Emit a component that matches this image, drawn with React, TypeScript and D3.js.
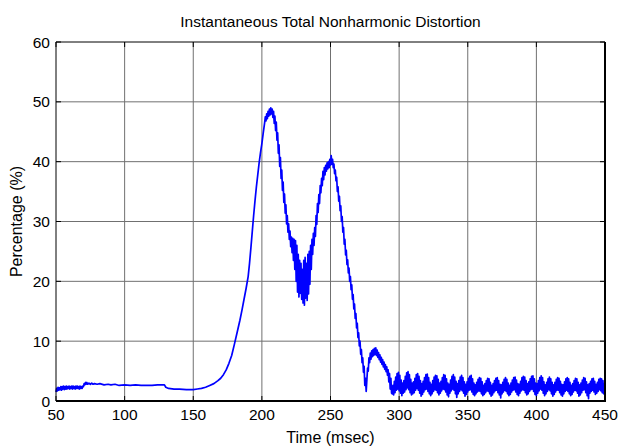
import * as React from 'react';
import * as d3 from 'd3';

const title = 'Instantaneous Total Nonharmonic Distortion';
const xLabel = 'Time (msec)';
const yLabel = 'Percentage (%)';
const xTicks = [50, 100, 150, 200, 250, 300, 350, 400, 450];
const yTicks = [0, 10, 20, 30, 40, 50, 60];

// [time (msec), percentage]
const startup = [
  [50, 1.5], [50.5, 2.1], [51, 1.7], [51.5, 2.3], [52, 1.8], [52.5, 2.2], [53, 1.9], [53.5, 2.4],
  [54, 1.8], [54.5, 2.4], [55, 2.0], [55.5, 2.5], [56, 1.9], [56.5, 2.4], [57, 2.0], [57.5, 2.5],
  [58, 2.0], [58.5, 2.4], [59, 2.1], [59.5, 2.5], [60, 2.0], [60.5, 2.4], [61, 2.1], [61.5, 2.5],
  [62, 2.0], [62.5, 2.5], [63, 2.1], [63.5, 2.4], [64, 2.0], [64.5, 2.5], [65, 2.1], [65.5, 2.5],
  [66, 2.1], [66.5, 2.4], [67, 2.0], [67.5, 2.5], [68, 2.1], [68.5, 2.4], [69, 2.1], [69.5, 2.5],
  [70, 2.4], [70.5, 2.9], [71, 2.7], [71.5, 3.1], [72, 2.8], [72.5, 3.1], [73, 2.8], [74, 3.0],
  [75, 2.8], [76, 3.0], [77, 2.8], [78, 2.9], [80, 2.8], [82, 2.9], [85, 2.7], [88, 2.8],
  [90, 2.7], [93, 2.8], [96, 2.6], [100, 2.7], [104, 2.6], [108, 2.7], [112, 2.6], [116, 2.6],
  [120, 2.6], [124, 2.7], [128, 2.7], [129, 2.7],
  [130, 2.3], [132, 2.1], [136, 2.0], [140, 2.0], [145, 1.9], [150, 1.9], [153, 2.0],
  [156, 2.1], [159, 2.3], [162, 2.6], [165, 2.9], [168, 3.4], [170, 3.8], [172, 4.4],
  [174, 5.2], [176, 6.3], [178, 7.6], [180, 9.5], [182, 11.5], [184, 13.5], [185.5, 15.2],
  [187, 17.0], [188.5, 18.8], [190, 20.8], [191, 23.0], [192, 25.6], [193, 28.3],
  [194, 31.0], [195, 33.5], [196, 35.8], [197, 37.8], [198, 39.8], [199, 41.5],
  [200, 43.0], [201, 44.8], [202, 46.5], [202.5, 47.5], [203, 46.8],
  [203.5, 48.0], [204, 47.2], [204.5, 48.4], [205, 47.6], [205.5, 48.8], [206, 47.8],
  [206.5, 49.0], [207, 48.0], [207.5, 48.8], [208, 47.4], [208.5, 48.4], [209, 46.4],
  [209.5, 47.6], [210, 45.2], [210.5, 46.6], [211, 43.6], [211.5, 44.8], [212, 41.4],
  [212.5, 42.8], [213, 39.2], [213.5, 40.7], [214, 37.2], [214.5, 38.6], [215, 35.2],
  [215.5, 36.6], [216, 33.2], [216.5, 34.6], [217, 31.4], [217.5, 32.8], [218, 29.6],
  [218.5, 31.0], [219, 28.2], [219.5, 29.6], [220, 27.0], [220.5, 28.4], [221, 25.8],
];

const dip = [
  [221.5, 27.4], [222, 24.8], [222.5, 27.2], [223, 23.5], [223.5, 27.0], [224, 22.0],
  [224.5, 26.8], [225, 20.0], [225.5, 26.0], [226, 18.2], [226.5, 24.5], [227, 17.4],
  [227.5, 23.5], [228, 18.0], [228.5, 23.0], [229, 17.0], [229.5, 22.0], [230, 16.4],
  [230.5, 23.5], [231, 16.0], [231.5, 24.0], [232, 17.2], [232.5, 23.0], [233, 16.8],
  [233.5, 24.5], [234, 17.9], [234.5, 25.0], [235, 19.5], [235.5, 26.0], [236, 22.0],
  [236.5, 27.0], [237, 24.5], [237.5, 28.0], [238, 26.0], [238.5, 29.0], [239, 27.5],
  [239.5, 31.0], [240, 29.5], [240.5, 33.0], [241, 31.5], [241.5, 34.5], [242, 33.0],
  [242.5, 36.0], [243, 34.8], [243.5, 37.2], [244, 36.0], [244.5, 38.4], [245, 37.0],
  [245.5, 39.0], [246, 37.8], [246.5, 39.4], [247, 38.4], [247.5, 39.8], [248, 38.8],
  [248.5, 40.0], [249, 39.0], [249.5, 40.4], [250, 39.4], [250.5, 41.0], [251, 39.6],
  [251.5, 40.4], [252, 39.0], [252.5, 39.6], [253, 38.0], [253.5, 38.6], [254, 36.8],
  [254.5, 37.4], [255, 35.0], [255.5, 35.8], [256, 33.4], [256.5, 34.2], [257, 31.8],
  [257.5, 32.6], [258, 30.0], [258.5, 30.8], [259, 28.2], [259.5, 29.0], [260, 26.2],
  [260.5, 27.0], [261, 24.4], [261.5, 25.2], [262, 22.8], [262.5, 23.6], [263, 21.4],
  [263.5, 22.2], [264, 20.0], [264.5, 20.8], [265, 18.6], [265.5, 19.4], [266, 17.0],
  [266.5, 17.8], [267, 15.4], [267.5, 16.2], [268, 13.8], [268.5, 14.6], [269, 12.2],
  [269.5, 13.0], [270, 10.6], [270.5, 11.4], [271, 9.2], [271.5, 10.0], [272, 7.8],
  [272.5, 8.6], [273, 6.4], [273.5, 7.2], [274, 4.8], [274.5, 5.8], [275, 2.6],
  [275.5, 3.8], [276, 1.6], [276.5, 3.5], [277, 5.5], [277.5, 5.0], [278, 7.2],
  [278.5, 6.4], [279, 8.0], [279.5, 7.0], [280, 8.4], [280.5, 7.4], [281, 8.6],
  [281.5, 7.6], [282, 8.8], [282.5, 7.8], [283, 8.9], [283.5, 7.6], [284, 8.5],
  [284.5, 7.3], [285, 8.1], [285.5, 6.9], [286, 7.7], [286.5, 6.5], [287, 7.3],
  [287.5, 6.1], [288, 6.9], [288.5, 5.7], [289, 6.5], [289.5, 5.3], [290, 6.1],
  [290.5, 4.9], [291, 5.7], [291.5, 4.3], [292, 5.2], [292.5, 3.2], [293, 4.6],
  [293.5, 2.0], [294, 3.8], [294.5, 1.3],
];

// after 295 msec, sampled every 0.5 msec
const tailStart = 295;
const tailStep = 0.5;
const tailPct = [
  1.2, 2.6, 1.0, 3.3, 1.4, 4.0, 1.8, 4.6, 2.0, 4.8, 1.7, 4.3, 1.3, 3.5, 0.9, 3.0,
  1.3, 3.4, 1.5, 4.1, 1.9, 4.7, 2.2, 4.9, 1.9, 4.4, 1.4, 3.6, 1.0, 3.0, 1.2, 3.2,
  1.4, 3.8, 1.8, 4.4, 2.1, 4.6, 1.8, 4.1, 1.3, 3.4, 0.8, 2.9, 1.1, 3.3, 1.5, 3.9,
  1.9, 4.4, 2.0, 4.5, 1.6, 3.9, 1.2, 3.1, 0.9, 2.8, 1.2, 3.4, 1.6, 4.0, 1.9, 4.3,
  1.8, 4.2, 1.4, 3.6, 1.0, 3.0, 1.3, 3.3, 1.7, 3.9, 2.0, 4.4, 1.9, 4.3, 1.5, 3.7,
  1.0, 3.0, 0.7, 2.8, 1.3, 3.5, 1.7, 4.1, 2.0, 4.4, 1.8, 4.0, 1.2, 3.3, 0.6, 2.9,
  1.2, 3.4, 1.6, 4.0, 1.9, 4.3, 1.7, 3.9, 1.3, 3.2, 0.8, 2.8, 1.1, 3.2, 1.5, 3.8,
  1.8, 4.1, 1.9, 4.3, 1.5, 3.7, 1.1, 3.0, 0.9, 2.7, 1.2, 3.1, 1.5, 3.6, 1.7, 3.9,
  1.6, 3.8, 1.2, 3.2, 0.9, 2.6, 1.1, 2.9, 1.4, 3.4, 1.7, 3.8, 1.6, 3.7, 1.2, 3.1,
  0.8, 2.6, 1.0, 2.9, 1.4, 3.4, 1.7, 3.8, 1.8, 3.9, 1.4, 3.4, 1.0, 2.8, 0.5, 2.7,
  1.2, 3.1, 1.5, 3.6, 1.8, 3.9, 1.6, 3.6, 1.2, 3.0, 0.9, 2.6, 1.1, 3.0, 1.5, 3.5,
  1.8, 3.9, 1.9, 4.0, 1.5, 3.5, 1.1, 2.9, 0.9, 2.8, 1.3, 3.3, 1.7, 3.9, 1.9, 4.1,
  1.8, 4.0, 1.4, 3.4, 1.0, 2.9, 1.2, 3.2, 1.6, 3.7, 1.9, 4.1, 2.0, 4.2, 1.6, 3.7,
  1.1, 3.0, 0.9, 2.9, 1.3, 3.4, 1.7, 3.9, 2.0, 4.2, 1.8, 3.9, 1.3, 3.2, 0.9, 2.7,
  1.2, 3.1, 1.6, 3.7, 1.9, 4.0, 1.7, 3.7, 1.2, 3.1, 0.8, 2.7, 1.1, 3.1, 1.5, 3.6,
  1.8, 3.9, 1.8, 3.8, 1.4, 3.3, 1.0, 2.8, 0.8, 2.7, 1.2, 3.2, 1.6, 3.7, 1.8, 3.9,
  1.6, 3.7, 1.2, 3.1, 0.9, 2.6, 1.1, 2.9, 1.5, 3.4, 1.8, 3.8, 1.7, 3.7, 1.3, 3.1,
  0.8, 2.7, 1.0, 3.0, 1.4, 3.5, 1.8, 3.9, 1.9, 3.8, 1.4, 3.2, 0.9, 2.7, 0.4, 2.9,
  1.3, 3.3, 1.6, 3.7, 1.8, 3.8, 1.5, 3.3, 1.1, 2.8, 1.3, 3.1, 1.6, 3.6, 1.9, 3.8,
  1.7, 3.7, 1.4, 3.4, 1.2, 3.0,
];

const W = 619;
const H = 446;
const left = 56;
const right = 605;
const top = 42;
const bottom = 401;
const font = 'Liberation Sans, Arial, sans-serif';

const App = () => {
  const x = d3.scaleLinear().domain([50, 450]).range([left, right]);
  const y = d3.scaleLinear().domain([0, 60]).range([bottom, top]);
  const line = d3
    .line()
    .x((d) => x(d[0]))
    .y((d) => y(d[1]));
  const tail = tailPct.map((v, i) => [tailStart + i * tailStep, v]);
  const data = [...startup, ...dip, ...tail];

  return (
    <svg width={W} height={H} style={{ position: 'absolute', left: 0, top: 0 }}>
      <rect x={0} y={0} width={W} height={H} fill='white' />
      <text x={(left + right) / 2} y={27} textAnchor='middle' fontFamily={font} fontSize={15.5}>
        {title}
      </text>
      {/* grid */}
      <g stroke='#707070' strokeWidth={1}>
        {xTicks.slice(1, -1).map((t) => (
          <line key={'gx' + t} x1={x(t)} x2={x(t)} y1={top} y2={bottom} />
        ))}
        {yTicks.slice(1, -1).map((t) => (
          <line key={'gy' + t} x1={left} x2={right} y1={y(t)} y2={y(t)} />
        ))}
      </g>
      <path d={line(data)} fill='none' stroke='#0000ff' strokeWidth={1.7} strokeLinejoin='round' />
      {/* ticks */}
      <g stroke='black' strokeWidth={1}>
        {xTicks.map((t) => (
          <g key={'tx' + t}>
            <line x1={x(t)} x2={x(t)} y1={bottom} y2={bottom - 5} />
            <line x1={x(t)} x2={x(t)} y1={top} y2={top + 5} />
          </g>
        ))}
        {yTicks.map((t) => (
          <g key={'ty' + t}>
            <line x1={left} x2={left + 5} y1={y(t)} y2={y(t)} />
            <line x1={right} x2={right - 5} y1={y(t)} y2={y(t)} />
          </g>
        ))}
      </g>
      {/* box */}
      <line x1={left} x2={right} y1={top} y2={top} stroke='black' />
      <line x1={left} x2={left} y1={top} y2={bottom} stroke='black' />
      <line x1={right} x2={right} y1={top} y2={bottom + 1} stroke='black' strokeWidth={2} />
      <line x1={left} x2={right + 1} y1={bottom} y2={bottom} stroke='black' strokeWidth={2} />
      {xTicks.map((t) => (
        <text key={'lx' + t} x={x(t)} y={420} textAnchor='middle' fontFamily={font} fontSize={15.5}>
          {t}
        </text>
      ))}
      {yTicks.map((t) => (
        <text
          key={'ly' + t}
          x={left - 6}
          y={y(t)}
          dy='0.36em'
          textAnchor='end'
          fontFamily={font}
          fontSize={15.5}>
          {t}
        </text>
      ))}
      <text x={(left + right) / 2} y={443} textAnchor='middle' fontFamily={font} fontSize={16}>
        {xLabel}
      </text>
      <text
        transform={`translate(22 ${(top + bottom) / 2}) rotate(-90)`}
        textAnchor='middle'
        fontFamily={font}
        fontSize={16}>
        {yLabel}
      </text>
    </svg>
  );
};

export default App;
